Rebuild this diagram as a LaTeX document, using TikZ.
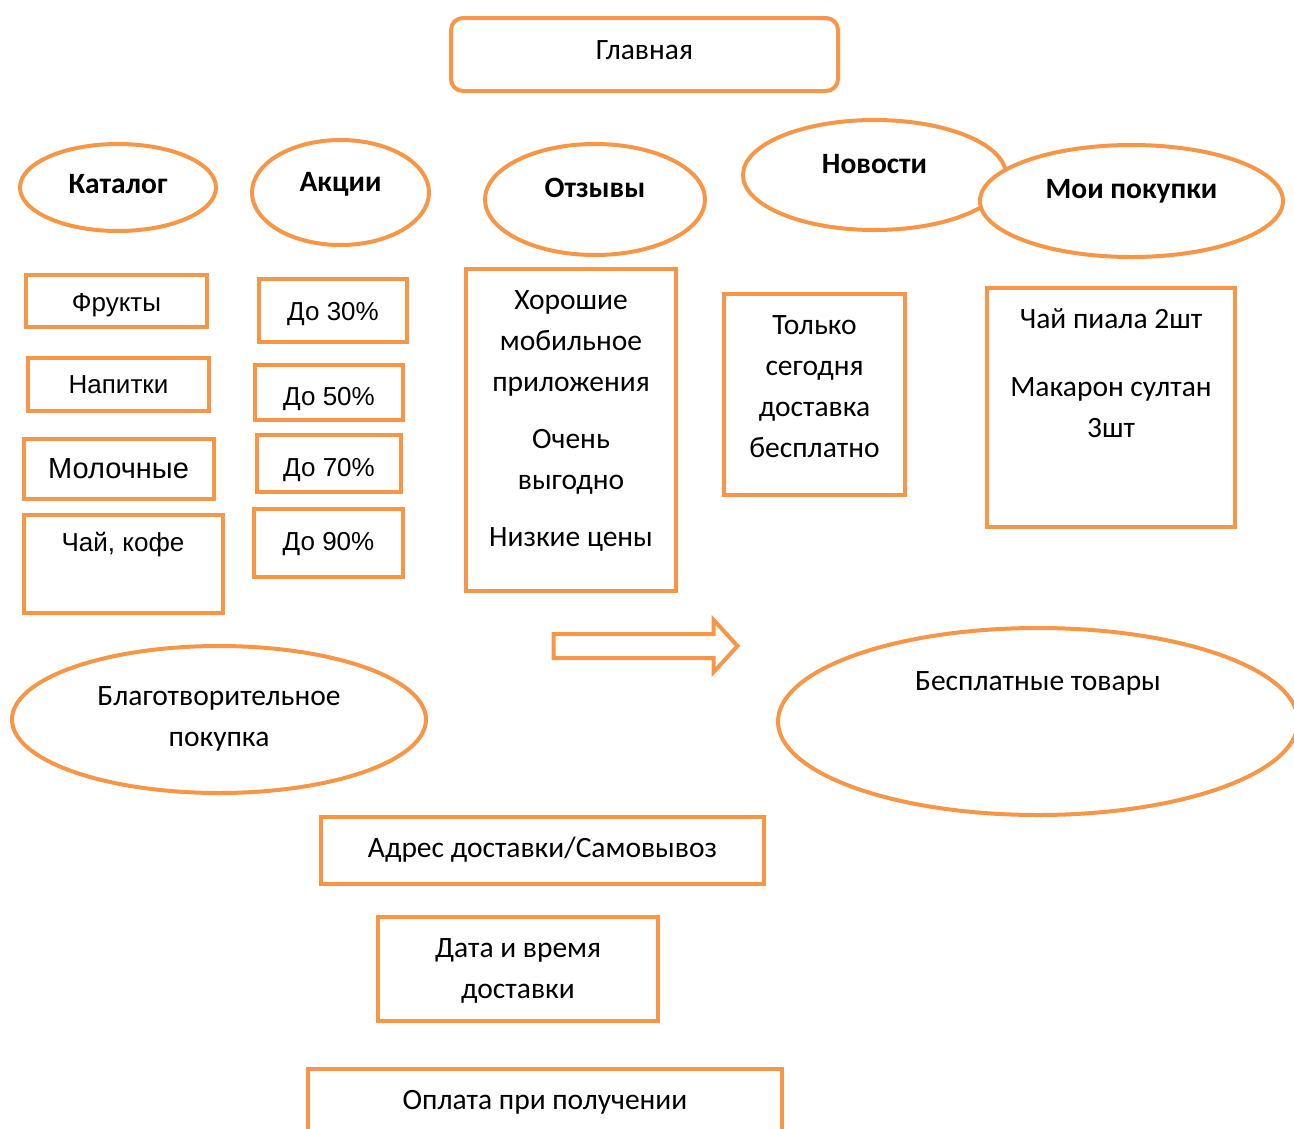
\documentclass[tikz,border=0pt]{standalone}
\usepackage{fontspec}
\setmainfont{Carlito}
\newfontfamily\arialfont{Liberation Sans}
\usetikzlibrary{positioning,shapes,shapes.arrows}
\definecolor{borange}{RGB}{247,150,70}
\tikzstyle{obox}=[rectangle, draw=borange, line width=4pt, inner sep=0pt,
                  align=center, text height=20pt, text depth=1pt,
                  font=\fontsize{29.5}{41}\selectfont]
\tikzstyle{abox}=[obox, text depth=1.4pt,
                  font=\arialfont\fontsize{26}{31}\selectfont]
\tikzstyle{hell}=[ellipse, draw=borange, fill=white, line width=4pt, inner sep=0pt,
                  align=center, text height=20pt, text depth=23pt,
                  font=\bfseries\fontsize{29.5}{35}\selectfont]
\tikzstyle{oell}=[hell, font=\fontsize{29.5}{41}\selectfont]
\tikzstyle{barrow}=[single arrow, draw=borange, line width=4pt, inner xsep=0pt,
                    inner ysep=10pt, single arrow head extend=14pt,
                    single arrow tip angle=95]

\begin{document}
\begin{tikzpicture}[x=1pt, y=-1pt]
\useasboundingbox (0,0) rectangle (1294,1128);
\clip (0,0) rectangle (1294,1128);

\node (MAIN) [obox, rounded corners=12pt, minimum width=387pt, minimum height=73pt,
 text depth=10pt] at (644.5,54.5) {Главная};

\node (CAT) [hell, minimum width=196pt, minimum height=87pt, text depth=8pt] at (118,187.5) {Каталог};
\node (PRM) [hell, minimum width=177pt, minimum height=105pt, text depth=22pt] at (340.5,192.5) {Акции};
\node (REV) [hell, minimum width=220pt, minimum height=111pt, text depth=24pt] at (595,199.5) {Отзывы};
\node (NEWS) [hell, minimum width=263pt, minimum height=110pt] at (874.5,175) {Новости};
\node (MINE) [hell, minimum width=303pt, minimum height=112pt, text depth=25pt] at (1131.5,201) {Мои покупки};

\node (CATFRU) [abox, minimum width=181pt, minimum height=52pt, text depth=0pt] at (116.5,301) {Фрукты};
\node (CATDRK) [abox, minimum width=181pt, minimum height=53pt, below=27pt of CATFRU, xshift=2pt] {Напитки};
\node (CATMLK) [abox, minimum width=190pt, minimum height=60pt, below=24pt of CATDRK, text depth=1.2pt,
 font=\arialfont\fontsize{29}{35}\selectfont] {Молочные};
\node (CATTEA) [abox, minimum width=199pt, minimum height=98pt, below=12pt of CATMLK, xshift=4.5pt,
 text depth=45.4pt] {Чай, кофе};

\node (PRM30) [abox, minimum width=148pt, minimum height=63pt, text depth=0.4pt] at (333,310.5) {До 30\%};
\node (PRM50) [abox, minimum width=148pt, minimum height=55pt, below=19pt of PRM30, xshift=-4pt,
 text height=26pt, text depth=0.4pt] {До 50\%};
\node (PRM70) [abox, minimum width=144pt, minimum height=57pt, below=11pt of PRM50,
 text height=26pt, text depth=0.4pt] {До 70\%};
\node (PRM90) [abox, minimum width=149pt, minimum height=68pt, below=13pt of PRM70, xshift=-0.5pt,
 text depth=5.4pt] {До 90\%};

\node (REVBOX) [obox, minimum width=210pt, minimum height=322pt, text height=257pt, text depth=24pt]
 at (571,430) {Хорошие\\мобильное\\приложения\\[16pt]Очень\\выгодно\\[16pt]Низкие цены};
\node (NEWSBOX) [obox, minimum width=181pt, minimum height=201pt, text height=143pt, text depth=17pt]
 at (814.5,394.5) {Только\\сегодня\\доставка\\бесплатно};
\node (MINEBOX) [obox, minimum width=248pt, minimum height=239pt, text height=130pt, text depth=70pt]
 at (1111,407.5) {Чай пиала 2шт\\[27pt]Макарон султан\\3шт};

\node (ARR) [barrow, minimum height=184pt] at (640,646) {};

\node (CHAR) [oell, minimum width=414pt, minimum height=147pt, text height=61pt, text depth=7pt]
 at (219,719.5) {Благотворительное\\покупка};
\node (FREE) [oell, minimum width=520pt, minimum height=187pt, text depth=82pt] at (1038,721.5)
 {Бесплатные товары};

\node (ADDR) [obox, minimum width=443pt, minimum height=67pt, text depth=6pt] at (542.5,850.5)
 {Адрес доставки/Самовывоз};
\node (DATE) [obox, minimum width=280pt, minimum height=104pt, below=29pt of ADDR, xshift=-24.5pt,
 text height=61pt, text depth=2pt] {Дата и время\\доставки};
\node (PAY) [obox, minimum width=474pt, minimum height=66pt, below=44pt of DATE, xshift=27pt,
 text depth=5pt] {Оплата при получении};

\end{tikzpicture}
\end{document}
